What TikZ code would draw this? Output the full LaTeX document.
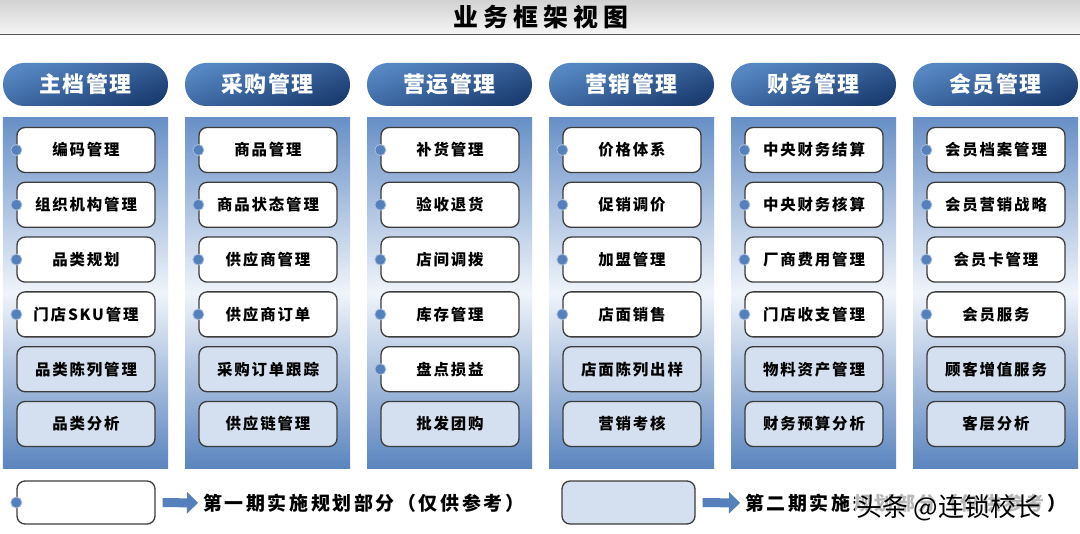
\documentclass[tikz,border=0pt]{standalone}
\usepackage{fontspec}
\usetikzlibrary{arrows.meta}
\newfontfamily\boxfont[LetterSpace=12]{Noto Sans CJK SC}
\newfontfamily\hdrfont[LetterSpace=6]{Noto Sans CJK SC}
\newfontfamily\ttlfont[LetterSpace=20]{Noto Sans CJK SC}
\newfontfamily\legfont[LetterSpace=14]{Noto Sans CJK SC}
\newfontfamily\wmfont{Noto Sans CJK SC}
\definecolor{hdrA}{HTML}{5687C3}
\definecolor{hdrB}{HTML}{1B3D72}
\definecolor{panA}{HTML}{6890C7}
\definecolor{panB}{HTML}{5B85BF}
\definecolor{panM}{HTML}{F0F4FA}
\definecolor{boxB}{HTML}{D4E0EF}
\definecolor{dotC}{HTML}{5580BB}
\definecolor{dotE}{HTML}{A9BFDD}
\definecolor{edgeC}{HTML}{3C3C3C}
\definecolor{barA}{HTML}{D2D2D2}
\definecolor{barB}{HTML}{F5F5F5}
\begin{document}
\begin{tikzpicture}[x=1bp,y=-1bp,
  hdr/.style={rounded corners=21bp, minimum width=165bp, minimum height=43bp, inner sep=0pt,
    top color=hdrA, bottom color=hdrB, shading angle=20, text=white,
    font=\hdrfont\bfseries\fontsize{22}{22}\selectfont},
  panel/.style={minimum width=165bp, minimum height=350bp, inner sep=0pt,
    top color=panA, bottom color=panB, middle color=panM},
  abox/.style={draw=edgeC, line width=1.3bp, rounded corners=8bp, minimum width=138bp,
    minimum height=45bp, inner sep=0pt, font=\boxfont\bfseries\fontsize{15.5}{15.5}\selectfont},
  p1box/.style={abox, fill=white},
  p2box/.style={abox, fill=boxB},
  bdot/.style={circle, fill=dotC, draw=dotE, line width=0.8bp, minimum size=11bp, inner sep=0pt},
  legtext/.style={anchor=west, inner sep=0pt, font=\legfont\bfseries\fontsize{19}{19}\selectfont},
  legarrow/.style={draw=dotC, line width=9bp, -{Triangle[length=11bp,width=21bp]}, shorten <=7bp, shorten >=5bp},
  wm/.style={inner sep=1.5bp, fill=white, fill opacity=0.72, text opacity=1,
    font=\wmfont\fontsize{26}{26}\selectfont}
]
\useasboundingbox (0,0) rectangle (1080,534);
\fill[white] (0,0) rectangle (1080,534);
% title bar
\shade[top color=barA, bottom color=barB] (0,0) rectangle (1080,34);
\draw[draw=gray!70!black, line width=1.5bp] (0,34.5) -- (1080,34.5);
\node[font=\ttlfont\bfseries\fontsize{25}{25}\selectfont, inner sep=0pt] (title) at (541,17) {业务框架视图};
% columns
\foreach \c/\hd/\np/\items in {
  0/主档管理/4/{编码管理,组织机构管理,品类规划,门店SKU管理,品类陈列管理,品类分析},
  1/采购管理/4/{商品管理,商品状态管理,供应商管理,供应商订单,采购订单跟踪,供应链管理},
  2/营运管理/5/{补货管理,验收退货,店间调拨,库存管理,盘点损益,批发团购},
  3/营销管理/4/{价格体系,促销调价,加盟管理,店面销售,店面陈列出样,营销考核},
  4/财务管理/4/{中央财务结算,中央财务核算,厂商费用管理,门店收支管理,物料资产管理,财务预算分析},
  5/会员管理/4/{会员档案管理,会员营销战略,会员卡管理,会员服务,顾客增值服务,客层分析}}{
  \pgfmathsetmacro{\cx}{85.5+182*\c}
  \node[hdr] (hdr\c) at (\cx,84.5) {\hd};
  \node[panel] (pan\c) at (\cx,293) {};
  \foreach \t [count=\i] in \items {
    \pgfmathsetmacro{\cy}{150+54.8*(\i-1)}
    \ifnum\i>\np\relax
      \node[p2box] (b\c-\i) at (\cx+0.5,\cy) {\t};
    \else
      \node[p1box] (b\c-\i) at (\cx+0.5,\cy) {\t};
      \node[bdot] (d\c-\i) at (b\c-\i.west) {};
    \fi
  }
}
% legend
\node[p1box, minimum height=43bp] (lg1) at (86,502.5) {};
\node[bdot] (ld1) at (lg1.west) {};
\node[legtext] (lt1) at (203,503) {第一期实施规划部分（仅供参考）};
\draw[legarrow] (lg1.east) -- (lt1.west);
\node[p2box, minimum height=43bp, minimum width=133bp] (lg2) at (628.5,502.5) {};
\node[legtext] (lt2) at (745,503) {第二期实施规划部分（仅供参考）};
\draw[legarrow] (lg2.east) -- (lt2.west);
% watermark
\node[wm, text=black] (wm) at (949,508) {头条 @连锁校长};
\end{tikzpicture}
\end{document}
